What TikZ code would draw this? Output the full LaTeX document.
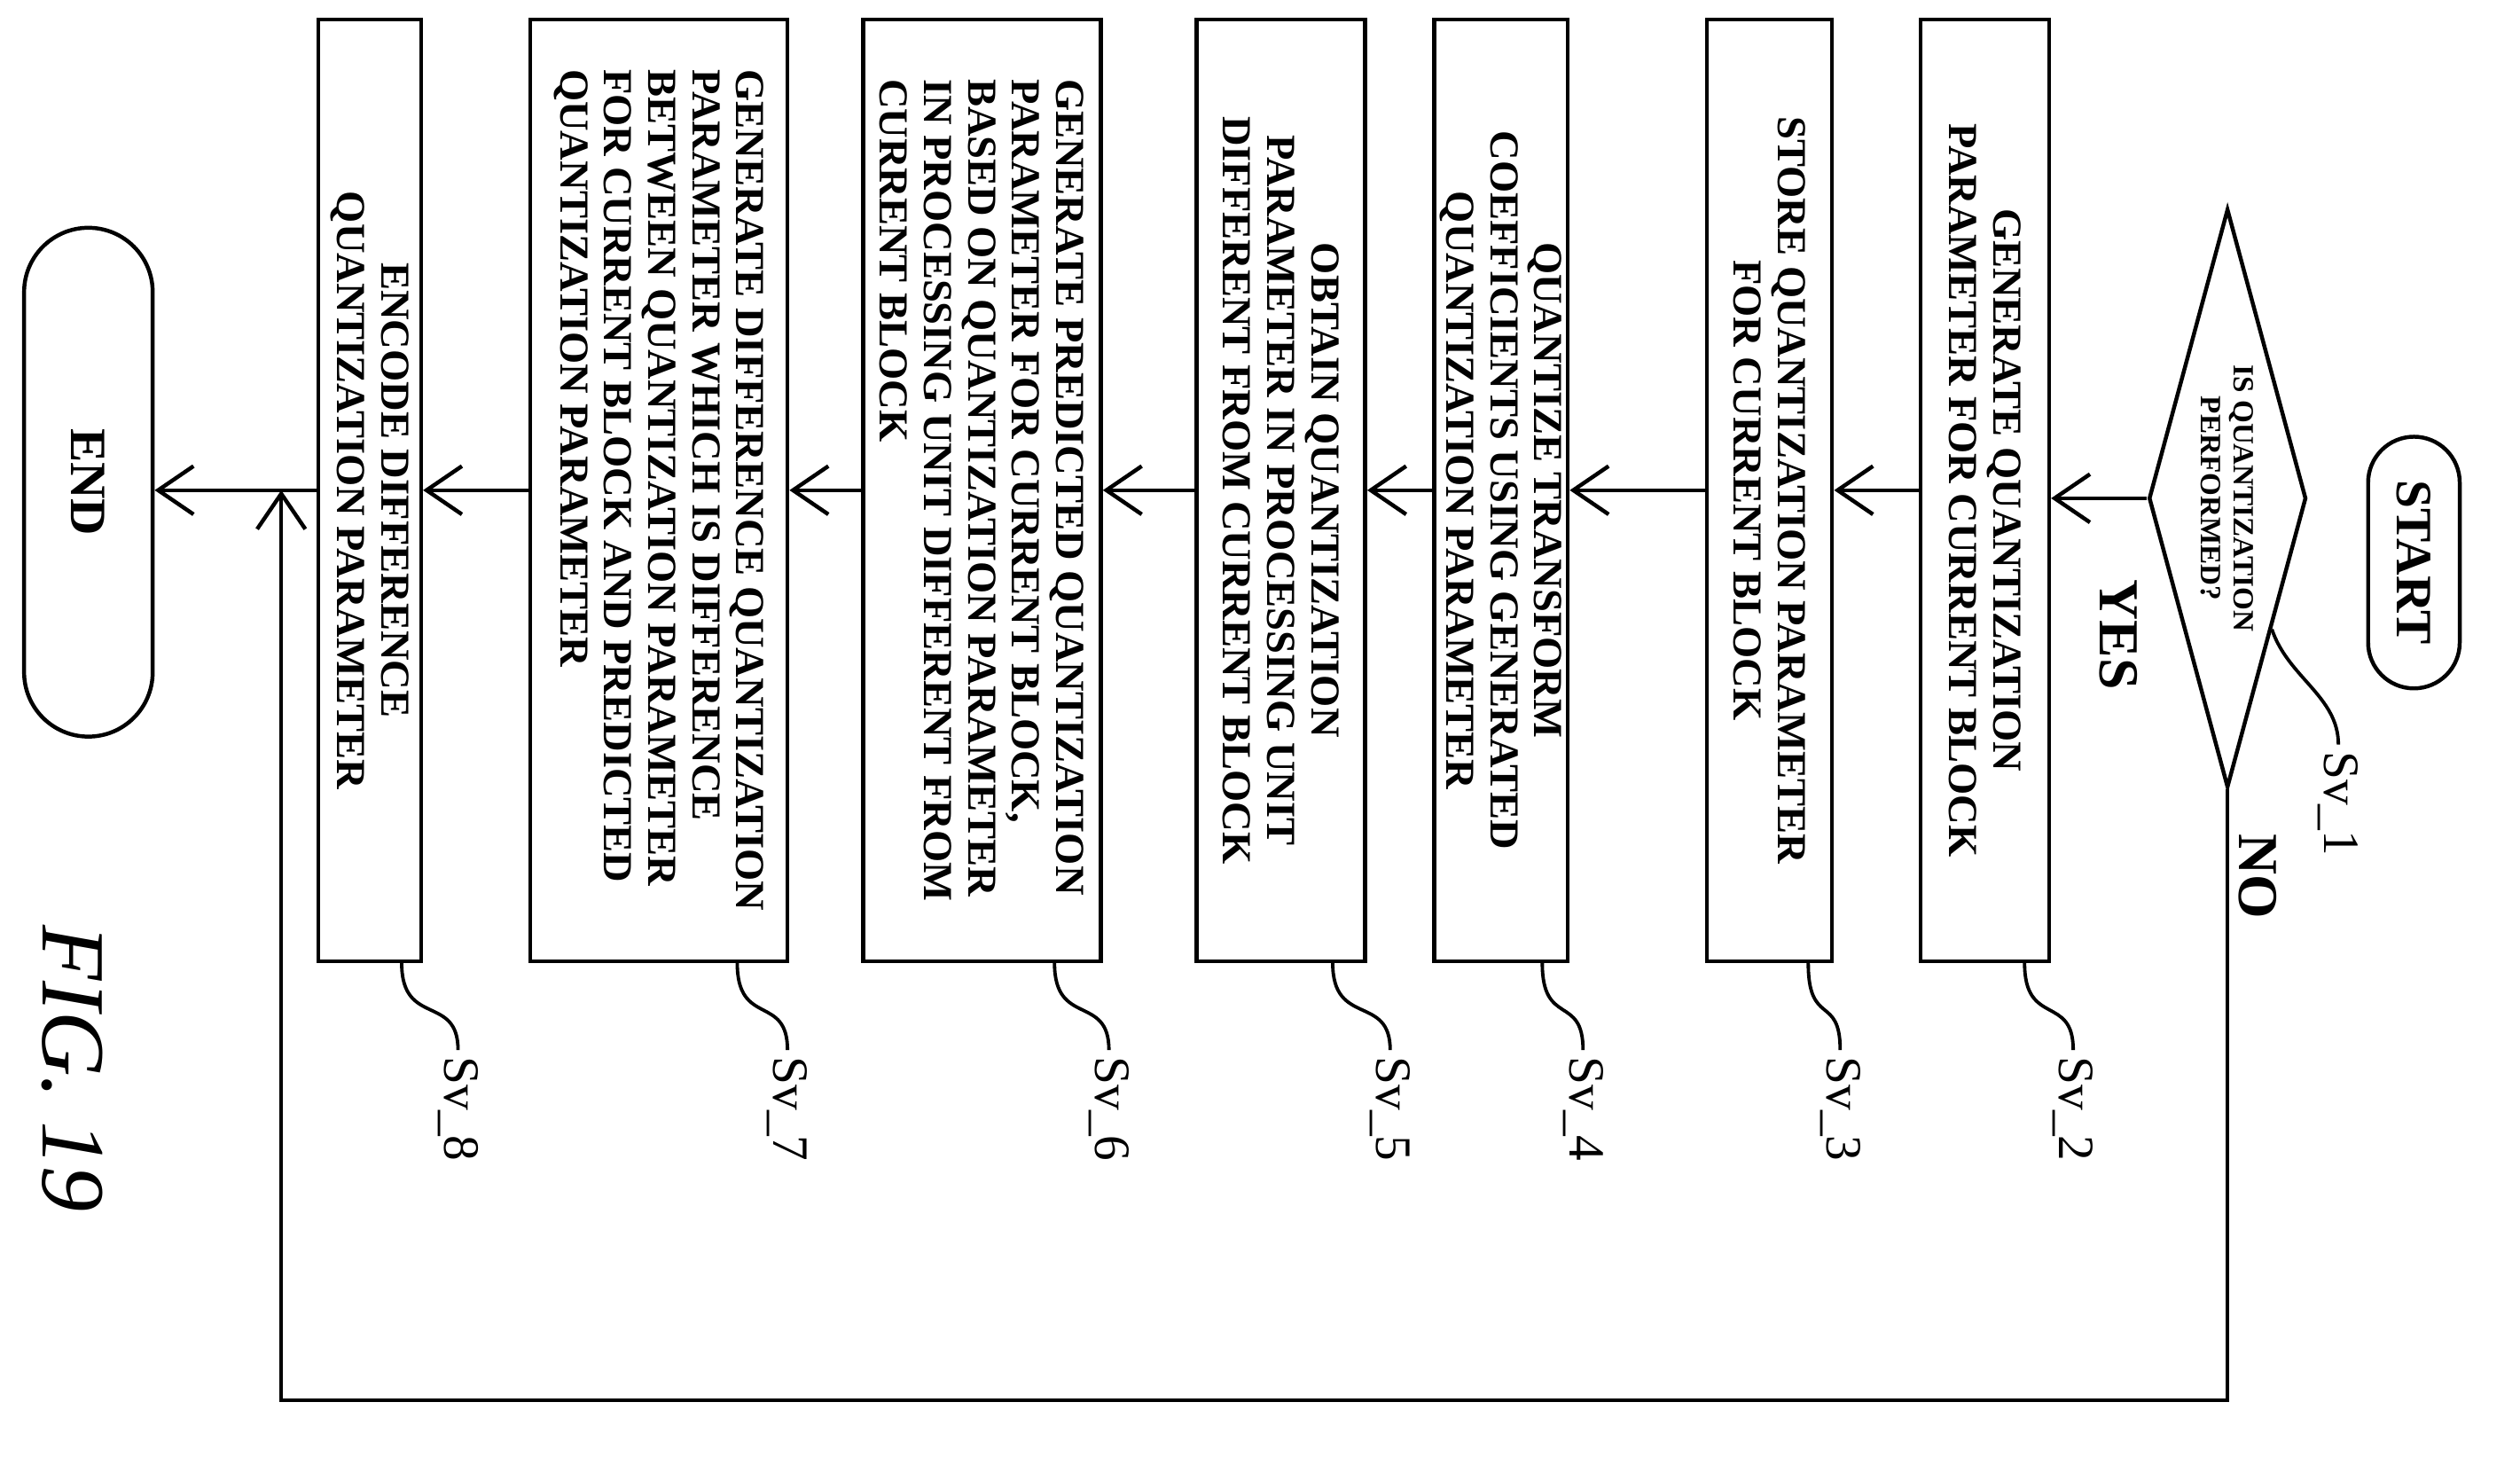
\documentclass[tikz,border=0pt]{standalone}
\usepackage{fontspec}
\setmainfont{Liberation Serif}
\usetikzlibrary{shapes.geometric,shapes.misc,arrows.meta,calc}
\tikzset{
  proc/.style={draw,rectangle,rotate=-90,line width=0.7pt,inner sep=1pt,
    font=\fontsize{7.3}{7.8}\selectfont\bfseries,align=center},
  term/.style={draw,rounded rectangle,rotate=-90,line width=0.7pt,
    font=\fontsize{9}{10}\selectfont\bfseries},
  tag/.style={rotate=-90,font=\fontsize{9}{10}\selectfont,inner sep=1pt},
  flow/.style={-{Straight Barb[length=2.2mm,width=3mm]},line width=0.7pt},
  lead/.style={line width=0.6pt}
}
\begin{document}
\begin{tikzpicture}[x=0.1mm,y=-0.1mm]
\useasboundingbox (0,0) rectangle (1568,906);

\node[term,minimum width=18mm,minimum height=5.7mm] (start) at (1502,350) {START};
\node[draw,diamond,rotate=-90,line width=0.7pt,aspect=3.6,inner sep=0pt,
  minimum width=36mm,minimum height=9.8mm,
  font=\fontsize{5.2}{5.8}\selectfont\bfseries,align=center] (d) at (1386,310)
  {IS QUANTIZATION\\PERFORMED?};

\node[proc,minimum width=58.6mm,minimum height=8mm] (b2) at (1235,305)
  {GENERATE QUANTIZATION\\PARAMETER FOR CURRENT BLOCK};
\node[proc,minimum width=58.6mm,minimum height=7.8mm] (b3) at (1101,305)
  {STORE QUANTIZATION PARAMETER\\FOR CURRENT BLOCK};
\node[proc,minimum width=58.6mm,minimum height=8.2mm] (b4) at (934,305)
  {QUANTIZE TRANSFORM\\COEFFICIENTS USING GENERATED\\QUANTIZATION PARAMETER};
\node[proc,minimum width=58.6mm,minimum height=10.5mm] (b5) at (797,305)
  {OBTAIN QUANTIZATION\\PARAMETER IN PROCESSING UNIT\\DIFFERENT FROM CURRENT BLOCK};
\node[proc,minimum width=58.6mm,minimum height=14.8mm,align=left] (b6) at (611,305)
  {GENERATE PREDICTED QUANTIZATION\\PARAMETER FOR CURRENT BLOCK,\\BASED ON QUANTIZATION PARAMETER\\IN PROCESSING UNIT DIFFERENT FROM\\CURRENT BLOCK};
\node[proc,minimum width=58.6mm,minimum height=16mm,align=left] (b7) at (410,305)
  {GENERATE DIFFERENCE QUANTIZATION\\PARAMETER WHICH IS DIFFERENCE\\BETWEEN QUANTIZATION PARAMETER\\FOR CURRENT BLOCK AND PREDICTED\\QUANTIZATION PARAMETER};
\node[proc,minimum width=58.6mm,minimum height=6.4mm] (b8) at (230,305)
  {ENCODE DIFFERENCE\\QUANTIZATION PARAMETER};
\node[term,minimum width=34mm,minimum height=8mm] (end) at (55,300) {END};

% main flow
\draw[flow] (d.south) -- (b2.north |- d.south);
\draw[flow] (b2) -- (b3);
\draw[flow] (b3) -- (b4);
\draw[flow] (b4) -- (b5);
\draw[flow] (b5) -- (b6);
\draw[flow] (b6) -- (b7);
\draw[flow] (b7) -- (b8);
\draw[flow] (b8) -- (end.north |- b8);
\node[tag,font=\fontsize{10}{11}\selectfont\bfseries] (yes) at (1318,395) {YES};
\node[tag,font=\fontsize{10}{11}\selectfont\bfseries] (no) at (1405,545) {NO};

% NO branch
\coordinate (nj) at (175,305);
\draw[flow] (d.east) -- ++(0,380) -| (nj);

% step tags
\node[tag] (s1) at (1455,500) {Sv\_1};
\draw[lead] ($(d.north)!0.45!(d.east)$) .. controls +(10,30) and +(0,-30) .. (s1.west);
\foreach \n/\x in {2/1290,3/1145,4/985,5/865,6/690,7/490,8/285}{
  \node[tag] (s\n) at (\x,690) {Sv\_\n};
  \draw[lead] ($(b\n.north east)!0.2!(b\n.south east)$) .. controls +(0,40) and +(0,-35) .. (s\n.west);
}

\node[rotate=-90,font=\itshape\fontsize{16}{18}\selectfont] (fig) at (45,665) {FIG. 19};
\end{tikzpicture}
\end{document}
